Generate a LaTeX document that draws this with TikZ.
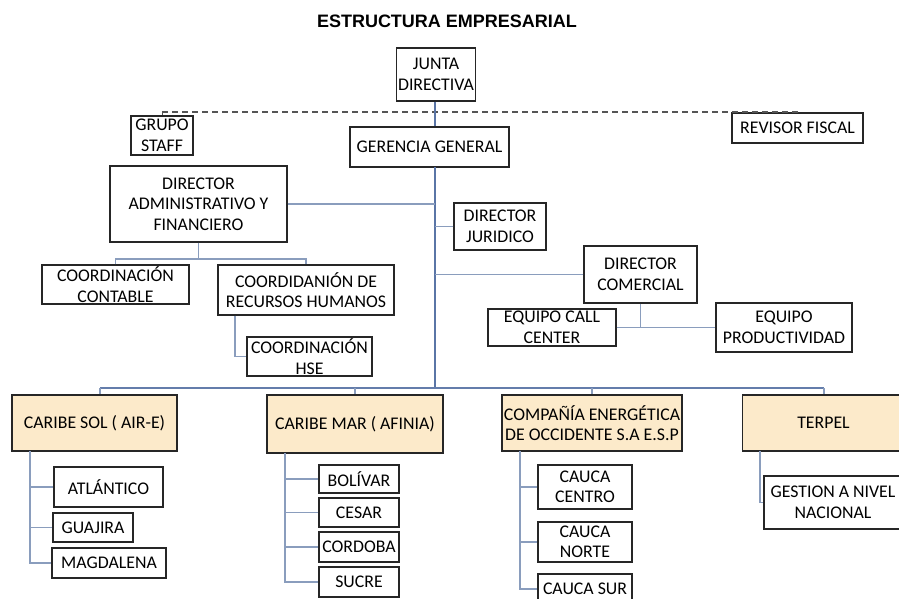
\documentclass[tikz,border=0pt]{standalone}
\usepackage{fontspec}
\setmainfont{Carlito}
\newfontfamily\titlefont{Liberation Sans}
\definecolor{conncol}{HTML}{8A9DBD}
\definecolor{trunkcol}{HTML}{5A75A6}
\definecolor{boxfill}{HTML}{FCEACA}
\definecolor{boxline}{HTML}{262626}
\definecolor{dashcol}{HTML}{555555}
\begin{document}
\begin{tikzpicture}[x=1pt,y=-1pt,
  box/.style={draw=boxline, line width=1.2pt, fill=white, inner sep=0pt, align=center,
    font=\fontsize{17.8}{20.5}\selectfont},
  cobox/.style={box, fill=boxfill},
  conn/.style={draw=conncol, line width=1.6pt},
  trunk/.style={draw=trunkcol, line width=2.4pt},
  bus/.style={draw=trunkcol!80!conncol, line width=2pt},
  dashline/.style={draw=dashcol, line width=1.3pt, dash pattern=on 6pt off 4pt}]
\clip (0,0) rectangle (899,599);
\fill[white] (0,0) rectangle (899,599);

\node[font=\titlefont\bfseries\fontsize{18}{20}\selectfont] (title) at (447,21) {ESTRUCTURA EMPRESARIAL};

% top level
\node[box, minimum width=79pt, minimum height=53pt] (junta) at (436,74.5) {JUNTA\\DIRECTIVA};
\node[box, minimum width=62pt, minimum height=39pt] (staff) at (162,135.5) {GRUPO\\STAFF};
\node[box, minimum width=159pt, minimum height=40pt] (gerencia) at (429.5,147) {GERENCIA GENERAL};
\node[box, minimum width=131pt, minimum height=30pt] (revisor) at (797.5,128) {REVISOR FISCAL};

% directors
\node[box, minimum width=177pt, minimum height=76pt] (diradm) at (198.5,204) {DIRECTOR\\ADMINISTRATIVO Y\\FINANCIERO};
\node[box, minimum width=92pt, minimum height=47pt] (jur) at (500,226.5) {DIRECTOR\\JURIDICO};
\node[box, minimum width=113pt, minimum height=57pt] (com) at (640.5,274.5) {DIRECTOR\\COMERCIAL};
\node[box, minimum width=128pt, minimum height=37pt] (call) at (552,327.5) {EQUIPO CALL\\CENTER};
\node[box, minimum width=136pt, minimum height=49pt] (prod) at (784,327.5) {EQUIPO\\PRODUCTIVIDAD};
\node[box, minimum width=147pt, minimum height=39pt] (contable) at (115.5,284.5) {COORDINACIÓN\\CONTABLE};
\node[box, minimum width=176pt, minimum height=50pt] (rrhh) at (306,290) {COORDIDANIÓN DE\\RECURSOS HUMANOS};
\node[box, minimum width=125pt, minimum height=39pt] (hse) at (309.5,356.5) {COORDINACIÓN\\HSE};

% companies
\node[cobox, minimum width=165pt, minimum height=56pt] (csol) at (94.5,423) {CARIBE SOL ( AIR-E)};
\node[cobox, minimum width=176pt, minimum height=58pt] (cmar) at (355,424) {CARIBE MAR ( AFINIA)};
\node[cobox, minimum width=180pt, minimum height=56pt] (ceo) at (592,423) {COMPAÑÍA ENERGÉTICA\\DE OCCIDENTE S.A E.S.P};
\node[cobox, minimum width=162pt, minimum height=56pt] (terpel) at (823.5,423) {TERPEL};

% regions
\node[box, minimum width=109pt, minimum height=40pt] (atl) at (108.5,487) {ATLÁNTICO};
\node[box, minimum width=80pt, minimum height=29pt] (guaj) at (93,527.5) {GUAJIRA};
\node[box, minimum width=114pt, minimum height=30pt] (magd) at (109,563) {MAGDALENA};
\node[box, minimum width=80pt, minimum height=28pt] (bol) at (359,479) {BOLÍVAR};
\node[box, minimum width=80pt, minimum height=29pt] (cesar) at (359,512.5) {CESAR};
\node[box, minimum width=80pt, minimum height=30pt] (cord) at (359,547) {CORDOBA};
\node[box, minimum width=80pt, minimum height=30pt] (sucre) at (359,582) {SUCRE};
\node[box, minimum width=94pt, minimum height=44pt] (ccentro) at (585,487) {CAUCA\\CENTRO};
\node[box, minimum width=94pt, minimum height=40pt] (cnorte) at (585,542) {CAUCA\\NORTE};
\node[box, minimum width=94pt, minimum height=30pt] (csur) at (585,589) {CAUCA SUR};
\node[box, minimum width=138pt, minimum height=53pt] (gestion) at (833,502.5) {GESTION A NIVEL\\NACIONAL};

% coordinates
\coordinate (dl) at (162,112);
\coordinate (dr) at (798,112);
\coordinate (tk) at (435,167);
\coordinate (tkend) at (435,388);
\coordinate (busl) at (100,388);
\coordinate (busr) at (824,388);

% dashed staff line
\draw[dashline] (dl) -- (dr);
\draw[dashcol, line width=1pt] (dl) -- (staff.north);
\draw[dashcol, line width=1pt] (dr) -- (revisor.north);

% trunk
\draw[trunkcol, line width=1.6pt] (junta.south -| tk) -- (gerencia.north -| tk);
\draw[trunk] (tk) -- (tkend);
\draw[bus] (busl) -- (busr);

% directors
\draw[conn] (diradm.east) -- (diradm.east -| tk);
\draw[conn] (jur.west) -- (jur.west -| tk);
\draw[conn] (com.west) -- (com.west -| tk);
\draw[conn] (com.south) -- (com.south |- call.east);
\draw[conn] (call.east) -- (prod.west);
\coordinate (admj) at (198.5,259);
\draw[conn] (diradm.south) -- (admj);
\draw[conn] (contable.north) |- (admj) -| (rrhh.north);
\coordinate (hsej) at (235,356.5);
\draw[conn] (rrhh.south -| hsej) -- (hsej) -- (hse.west);

% companies
\draw[conn] (busl) -- (busl |- csol.north);
\draw[conn] (cmar.north |- busl) -- (cmar.north);
\draw[conn] (ceo.north |- busl) -- (ceo.north);
\draw[conn] (busr) -- (busr |- terpel.north);

% regions
\coordinate (sv) at (30,451);
\draw[conn] (sv) |- (magd.west);
\draw[conn] (sv |- atl.west) -- (atl.west);
\draw[conn] (sv |- guaj.west) -- (guaj.west);
\coordinate (mv) at (285,453);
\draw[conn] (mv) |- (sucre.west);
\draw[conn] (mv |- bol.west) -- (bol.west);
\draw[conn] (mv |- cesar.west) -- (cesar.west);
\draw[conn] (mv |- cord.west) -- (cord.west);
\coordinate (ov) at (520,451);
\draw[conn] (ov) |- (csur.west);
\draw[conn] (ov |- ccentro.west) -- (ccentro.west);
\draw[conn] (ov |- cnorte.west) -- (cnorte.west);
\coordinate (tv) at (760,451);
\draw[conn] (tv) |- (gestion.west);
\end{tikzpicture}
\end{document}
